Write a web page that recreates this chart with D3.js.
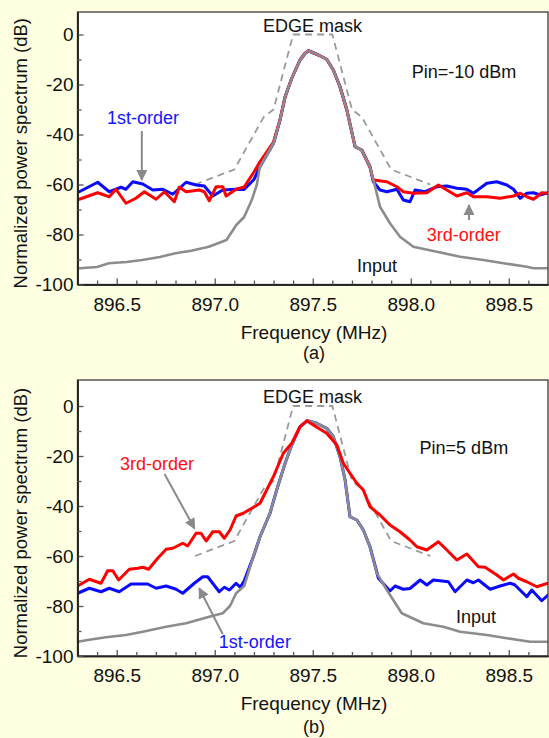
<!DOCTYPE html>
<html><head><meta charset="utf-8">
<script src="https://cdn.jsdelivr.net/npm/d3@7"></script>
<style>
html,body{margin:0;padding:0;background:#ffffe1;}
svg{display:block;}
text{font-family:"Liberation Sans",Arial,Helvetica,sans-serif;}
</style>
</head><body>
<svg id="chart" width="549" height="738"></svg>
<script>
// ---------------- data (frequency MHz, level dB) ----------------
const xMajorTicks = [896.5, 897.0, 897.5, 898.0, 898.5];
const xMinorTicks = [896.4,896.6,896.7,896.8,896.9,897.1,897.2,897.3,897.4,897.6,897.7,897.8,897.9,898.1,898.2,898.3,898.4,898.6];
const yMajorTicks = [-100, -80, -60, -40, -20, 0];
const yMinorTicks = [-90, -70, -50, -30, -10];

const maskFreq  = [896.9, 897.1, 897.25, 897.3, 897.4, 897.6, 897.7, 897.75, 897.9, 898.1];
const maskLevel = [-60, -54, -33, -30, 0, 0, -30, -33, -54, -60];

// (a) Pin = -10 dBm
const inputA = [[896.31,-93.5],[896.40,-93],[896.46,-91.5],[896.55,-91],[896.63,-90.2],[896.72,-89],[896.80,-87.5],[896.88,-86.5],[896.97,-84.9],[897.06,-82.2],[897.11,-76.2],[897.15,-73],[897.19,-66],[897.215,-60],[897.23,-53],[897.30,-43.5],[897.333,-34.2],[897.359,-24.9],[897.393,-17.5],[897.435,-10.2],[897.461,-7.5],[897.478,-6.5],[897.529,-8.2],[897.571,-9.9],[897.605,-14.2],[897.639,-20.9],[897.674,-30.2],[897.716,-44.9],[897.75,-46.2],[897.792,-53],[897.818,-60.9],[897.843,-68.9],[897.894,-75.5],[897.945,-80.9],[898.013,-84.9],[898.133,-86.9],[898.252,-88.9],[898.37,-90.2],[898.473,-91.5],[898.592,-92.9],[898.626,-93.5],[898.70,-93.5]];
const firstA = [[896.309,-62.9],[896.403,-59.1],[896.462,-62.9],[896.522,-61.1],[896.547,-61.9],[896.582,-58.9],[896.633,-59.8],[896.684,-62.2],[896.735,-61.9],[896.786,-63.9],[896.854,-59.1],[896.905,-60.2],[896.947,-60.6],[896.99,-64.6],[897.041,-62.2],[897.109,-61.9],[897.15,-62],[897.2,-58],[897.23,-53],[897.30,-43.5],[897.333,-34.2],[897.359,-24.9],[897.393,-17.5],[897.435,-10.2],[897.461,-7.5],[897.478,-6.5],[897.529,-8.2],[897.571,-9.9],[897.605,-14.2],[897.639,-20.9],[897.674,-30.2],[897.716,-44.9],[897.75,-46.2],[897.792,-53],[897.809,-58.9],[897.843,-62.2],[897.878,-62.9],[897.929,-61.9],[897.962,-66.2],[897.996,-66.9],[898.022,-62.2],[898.073,-62.9],[898.133,-60.9],[898.184,-60.6],[898.235,-61.5],[898.286,-61.9],[898.319,-63.5],[898.388,-59.5],[898.439,-58.9],[898.49,-60.2],[898.524,-61.9],[898.558,-65.5],[898.592,-63.5],[898.626,-63.3],[898.66,-64.2],[898.70,-63.3]];
const thirdA = [[896.309,-65.9],[896.403,-63.3],[896.462,-64.9],[896.496,-61.9],[896.547,-67.5],[896.598,-65.5],[896.641,-62.9],[896.701,-65.9],[896.743,-62.9],[896.794,-66.9],[896.819,-61.1],[896.854,-62.9],[896.921,-62.2],[896.947,-62.9],[896.972,-66.5],[897.007,-60.9],[897.041,-60.9],[897.058,-64.6],[897.109,-61.9],[897.15,-61],[897.2,-55],[897.23,-51],[897.30,-43],[897.333,-34.2],[897.359,-24.9],[897.393,-17.5],[897.435,-10.2],[897.461,-7.5],[897.478,-6.5],[897.529,-8.2],[897.571,-9.9],[897.605,-14.2],[897.639,-20.9],[897.674,-30.2],[897.716,-44.9],[897.75,-46.2],[897.792,-53],[897.809,-58.2],[897.878,-58.9],[897.929,-60.9],[897.962,-62.9],[898.013,-63.5],[898.082,-63.3],[898.141,-60.2],[898.184,-62.2],[898.235,-64.6],[898.286,-63.3],[898.319,-64.9],[898.388,-64.9],[898.456,-65.5],[898.524,-64.6],[898.558,-63.5],[898.592,-64.9],[898.626,-65.9],[898.668,-63.3],[898.70,-63.5]];

// (b) Pin = 5 dBm
const inputB = [[896.301,-94.3],[896.36,-93.5],[896.445,-92.5],[896.547,-91.6],[896.633,-90.3],[896.752,-88.3],[896.854,-86.9],[896.972,-84.3],[897.041,-82.9],[897.078,-80],[897.109,-74.9],[897.15,-72],[897.197,-60.3],[897.231,-52.3],[897.282,-42.9],[897.316,-33.6],[897.359,-22.9],[897.393,-15.6],[897.435,-8.3],[897.473,-5.9],[897.52,-6.9],[897.571,-8.9],[897.605,-12.3],[897.639,-20.3],[897.665,-29.6],[897.69,-44.3],[897.725,-45.6],[897.758,-49.6],[897.792,-56.3],[897.827,-66.9],[897.878,-73.6],[897.954,-82.9],[898.064,-86.9],[898.166,-88.3],[898.252,-90.3],[898.388,-91.6],[898.49,-92.9],[898.609,-94.3],[898.70,-94.3]];
const firstB = [[896.301,-74.9],[896.36,-72.9],[896.42,-74.3],[896.462,-72.9],[896.513,-74.3],[896.573,-71.2],[896.658,-71.2],[896.701,-72.9],[896.752,-72],[896.803,-73.3],[896.837,-74.9],[896.896,-70.9],[896.939,-68.3],[896.964,-68.3],[897.023,-74.3],[897.049,-72.5],[897.075,-73.6],[897.109,-70.9],[897.13,-72.5],[897.15,-70],[897.197,-60.3],[897.231,-52.3],[897.282,-42.9],[897.316,-33.6],[897.359,-22.9],[897.393,-15.6],[897.435,-8.3],[897.473,-5.9],[897.52,-6.9],[897.571,-8.9],[897.605,-12.3],[897.639,-20.3],[897.665,-29.6],[897.69,-44.3],[897.725,-45.6],[897.758,-49.6],[897.792,-56.3],[897.835,-68.9],[897.894,-74],[897.92,-72],[897.962,-73.3],[897.996,-73],[898.048,-69.6],[898.082,-71.6],[898.115,-69.6],[898.192,-70.3],[898.226,-74.3],[898.286,-69.6],[898.319,-70.7],[898.345,-69.6],[898.405,-73.3],[898.456,-72],[898.507,-70.9],[898.53,-71.5],[898.592,-76.3],[898.617,-73.6],[898.668,-77.9],[898.70,-75.6]];
const thirdB = [[896.301,-72],[896.36,-69.3],[896.42,-70.9],[896.454,-65.9],[896.48,-65.9],[896.51,-69.6],[896.564,-65.3],[896.607,-64.9],[896.633,-64.5],[896.663,-65.3],[896.709,-60.9],[896.752,-57.3],[896.786,-56.9],[896.837,-54.9],[896.862,-56],[896.905,-50.9],[896.93,-50.9],[896.956,-54],[896.99,-50.3],[897.023,-50.3],[897.049,-52.9],[897.078,-49.6],[897.109,-44],[897.146,-42.9],[897.189,-40.9],[897.231,-38.9],[897.265,-33.6],[897.299,-28.3],[897.35,-18.9],[897.393,-14.9],[897.435,-8.3],[897.469,-5.9],[897.503,-7.6],[897.571,-10.9],[897.623,-15.6],[897.656,-22.9],[897.69,-26.9],[897.725,-30.9],[897.758,-33.6],[897.792,-40.3],[897.843,-43.6],[897.894,-47.6],[897.945,-50.3],[897.996,-53.6],[898.031,-56.3],[898.082,-57.6],[898.141,-54.3],[898.184,-57.6],[898.235,-61.6],[898.286,-59.2],[898.345,-64.3],[898.379,-64.5],[898.439,-67.6],[898.473,-69.6],[898.524,-67.2],[898.549,-68.9],[898.592,-70.3],[898.643,-72.3],[898.70,-70.9]];

// annotation labels in data coordinates
const labelsA = [
  {text:"EDGE mask", f:897.499, v:1.2, anchor:"middle", color:"#111"},
  {text:"Pin=-10 dBm", f:898.005, v:-17.5, anchor:"start", color:"#111"},
  {text:"1st-order", f:896.45, v:-35.8, anchor:"start", color:"#1414ff"},
  {text:"3rd-order", f:898.081, v:-82.6, anchor:"start", color:"#ff1010"},
  {text:"Input", f:897.726, v:-94.8, anchor:"start", color:"#111"}
];
const arrowsA = [
  {f1:896.628, v1:-38.6, f2:896.628, v2:-58.2},
  {f1:898.297, v1:-74.2, f2:898.297, v2:-68.2}
];
const labelsB = [
  {text:"EDGE mask", f:897.499, v:1.1, anchor:"middle", color:"#111"},
  {text:"Pin=5 dBm", f:898.045, v:-19.2, anchor:"start", color:"#111"},
  {text:"3rd-order", f:896.517, v:-25.5, anchor:"start", color:"#ff1010"},
  {text:"1st-order", f:897.021, v:-96.8, anchor:"start", color:"#1414ff"},
  {text:"Input", f:898.231, v:-86.8, anchor:"start", color:"#111"}
];
const arrowsB = [
  {f1:896.744, v1:-27.2, f2:896.897, v2:-49},
  {f1:897.041, v1:-91.3, f2:896.921, v2:-72.9}
];

// ---------------- drawing ----------------
const svg = d3.select("#chart");
svg.append("rect").attr("width",549).attr("height",738).attr("fill","#ffffe1");

const defs = svg.append("defs");
defs.append("marker").attr("id","arrowhead")
  .attr("viewBox","0 0 10 10").attr("refX",9).attr("refY",5)
  .attr("markerUnits","userSpaceOnUse").attr("markerWidth",11).attr("markerHeight",11)
  .attr("orient","auto")
  .append("path").attr("d","M0,0 L10,5 L0,10 Z").attr("fill","#8a8a8a");

const mask = maskFreq.map((f,i)=>[f, maskLevel[i]]);

const panels = [
  {id:"a", top:12, bottom:284.5, yMax:9, input:inputA, first:firstA, third:thirdA,
   order:["first","third","input"], labels:labelsA, arrows:arrowsA,
   xTitleY:339, capY:359, capText:"(a)"},
  {id:"b", top:380, bottom:656, yMax:10.4, input:inputB, first:firstB, third:thirdB,
   order:["first","input","third"], labels:labelsB, arrows:arrowsB,
   xTitleY:710, capY:733, capText:"(b)"}
];

const left = 77.5, right = 548;
const x = d3.scaleLinear().domain([896.3, 898.7]).range([left, right]);
const colors = {first:"#0a0aff", third:"#ff0000", input:"#8c8c8c"};
const widths = {first:3, third:3, input:2.6};

panels.forEach(p => {
  const y = d3.scaleLinear().domain([-100, p.yMax]).range([p.bottom, p.top]);
  const g = svg.append("g");

  g.append("rect").attr("x",left).attr("y",p.top)
    .attr("width",right-left).attr("height",p.bottom-p.top).attr("fill","#ffffff");

  defs.append("clipPath").attr("id","clip"+p.id)
    .append("rect").attr("x",left).attr("y",p.top).attr("width",right-left).attr("height",p.bottom-p.top);

  const plot = g.append("g").attr("clip-path","url(#clip"+p.id+")");
  const line = d3.line().x(d=>x(d[0])).y(d=>y(d[1]));

  plot.append("path").datum(mask).attr("d",line)
    .attr("fill","none").attr("stroke","#9a9a9a").attr("stroke-width",1.8)
    .attr("stroke-dasharray","7,5");

  p.order.forEach(k => {
    plot.append("path").datum(p[k]).attr("d",line)
      .attr("fill","none").attr("stroke",colors[k]).attr("stroke-width",widths[k])
      .attr("stroke-linejoin","round").attr("stroke-linecap","round");
  });

  // frame
  g.append("rect").attr("x",left).attr("y",p.top)
    .attr("width",right-left).attr("height",p.bottom-p.top)
    .attr("fill","none").attr("stroke","#3a3a3a").attr("stroke-width",1.3);

  // axes
  const ax = g.append("g").attr("transform",`translate(0,${p.bottom})`)
    .call(d3.axisBottom(x).tickValues(xMajorTicks).tickFormat(d => d.toFixed(1))
      .tickSizeInner(-6).tickSizeOuter(0).tickPadding(13));
  const axm = g.append("g").attr("transform",`translate(0,${p.bottom})`)
    .call(d3.axisBottom(x).tickValues(xMinorTicks).tickFormat("")
      .tickSizeInner(-4).tickSizeOuter(0));
  const ay = g.append("g").attr("transform",`translate(${left},0)`)
    .call(d3.axisLeft(y).tickValues(yMajorTicks).tickFormat(d => String(d))
      .tickSizeInner(-6).tickSizeOuter(0).tickPadding(4));
  const aym = g.append("g").attr("transform",`translate(${left},0)`)
    .call(d3.axisLeft(y).tickValues(yMinorTicks).tickFormat("")
      .tickSizeInner(-4).tickSizeOuter(0));
  [ax,axm,ay,aym].forEach(a=>{
    a.select(".domain").attr("stroke","#222").attr("stroke-width",1.5);
    a.selectAll(".tick line").attr("stroke","#555").attr("stroke-width",1.3);
    a.selectAll(".tick text").attr("font-size",19).attr("fill","#111")
      .attr("font-family",'"Liberation Sans",Arial,sans-serif');
  });

  // axis titles
  g.append("text").attr("x",314).attr("y",p.xTitleY).attr("text-anchor","middle")
    .attr("font-size",19).attr("fill","#111").text("Frequency (MHz)");
  g.append("text").attr("x",314).attr("y",p.capY).attr("text-anchor","middle")
    .attr("font-size",18).attr("fill","#111").text(p.capText);
  const cy = (p.top + p.bottom)/2 + 5;
  g.append("text").attr("transform",`translate(27,${cy}) rotate(-90)`)
    .attr("text-anchor","middle").attr("font-size",18.5).attr("fill","#111")
    .text("Normalized power spectrum (dB)");

  // annotations
  p.labels.forEach(l => {
    g.append("text").attr("x",x(l.f)).attr("y",y(l.v)).attr("text-anchor",l.anchor)
      .attr("font-size",18).attr("fill",l.color).text(l.text);
  });
  p.arrows.forEach(a => {
    g.append("line").attr("x1",x(a.f1)).attr("y1",y(a.v1)).attr("x2",x(a.f2)).attr("y2",y(a.v2))
      .attr("stroke","#8a8a8a").attr("stroke-width",2).attr("marker-end","url(#arrowhead)");
  });
});
</script>
</body></html>
